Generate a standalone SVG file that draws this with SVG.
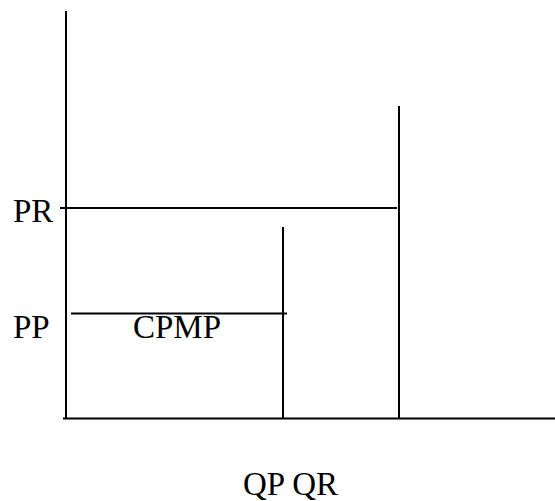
<svg xmlns="http://www.w3.org/2000/svg" width="555" height="501" viewBox="0 0 555 501">
  <style>
    .ln { stroke: #000; stroke-width: 2; fill: none; }
    .lbl { font-family: "Liberation Serif", "Times New Roman", serif; font-size: 33px; fill: #000; }
  </style>
  <rect width="555" height="501" fill="#fff"/>
  <g id="axes">
    <line class="ln" x1="66" y1="11" x2="66" y2="419"/>
    <line class="ln" x1="63" y1="418.5" x2="555" y2="418.5"/>
  </g>
  <g id="connectors">
    <line class="ln" x1="60" y1="208" x2="397" y2="208"/>
    <line class="ln" x1="71" y1="313.5" x2="287" y2="313.5"/>
    <line class="ln" x1="283" y1="227" x2="283" y2="418"/>
    <line class="ln" x1="399" y1="106" x2="399" y2="418"/>
  </g>
  <g id="labels">
    <text class="lbl" x="13" y="222">PR</text>
    <text class="lbl" x="13" y="338">PP</text>
    <text class="lbl" x="133" y="338">CPMP</text>
    <text class="lbl" x="243" y="495">QP QR</text>
  </g>
</svg>
